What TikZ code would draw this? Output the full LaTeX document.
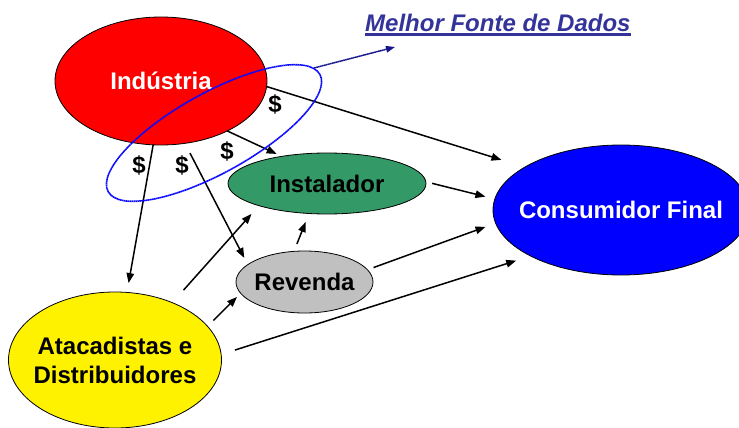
\documentclass[tikz,border=0pt]{standalone}
\usepackage{fontspec}
\setmainfont{Liberation Sans}
\usetikzlibrary{shapes.geometric,arrows.meta}
\definecolor{grn}{RGB}{51,153,102}
\definecolor{ttlc}{RGB}{51,51,153}
\definecolor{navyc}{RGB}{20,20,140}
\definecolor{selblue}{RGB}{10,10,255}
\definecolor{greyc}{RGB}{192,192,192}
\begin{document}
\begin{tikzpicture}[x=1pt,y=-1pt,
 ell/.style={ellipse, draw=black, line width=0.8pt, inner sep=0pt, outer sep=0pt},
 lbl/.style={font=\fontsize{24}{29}\selectfont\bfseries, align=center, inner sep=0pt},
 arr/.style={line width=1.5pt, -{Triangle[length=10pt,width=7.5pt]}},
 dollar/.style={font=\fontsize{24}{29}\selectfont\bfseries, inner sep=0pt}]
\useasboundingbox (0,0) rectangle (739,428);
\clip (0,0) rectangle (739,428);

\node[ell, fill=red, minimum width=212pt, minimum height=128pt,
  label={[lbl, text=white]center:Indústria}] (ind) at (161,81) {};
\node[ell, fill=grn, minimum width=198pt, minimum height=61pt,
  label={[lbl]center:Instalador}] (inst) at (327,183.5) {};
\node[ell, fill=greyc, minimum width=137pt, minimum height=62pt,
  label={[lbl]center:Revenda}] (rev) at (304.5,282) {};
\node[ell, fill=yellow, minimum width=213pt, minimum height=136pt,
  label={[lbl]center:Atacadistas e\\Distribuidores}] (ata) at (115,360) {};
\node[ell, fill=blue, minimum width=256pt, minimum height=130pt,
  label={[lbl, text=white]center:Consumidor Final}] (cons) at (621,210) {};

\node[dollar] (d1) at (275,104) {\$};
\node[dollar] (d2) at (227,151) {\$};
\node[dollar] (d3) at (139,165) {\$};
\node[dollar] (d4) at (182,165) {\$};

\draw[arr, shorten >=24.4pt] (ind.357.3) -- (cons.156.2);
\draw[arr, shorten >=5.7pt] (ind.323.3) -- (inst.149.5);
\draw[arr, shorten >=9.5pt] (ind.263) -- (ata.80.5);
\draw[arr, shorten <=11pt, shorten >=7.6pt] (ind.291.9) -- (rev.163.2);
\draw[arr, shorten <=16.8pt, shorten >=11.1pt] (ata.45.4) -- (inst.198.3);
\draw[arr, shorten <=8.3pt, shorten >=5.2pt] (ata.20.4) -- (rev.190.1);
\draw[arr, shorten <=8pt, shorten >=9.15pt] (rev.109) -- (inst.239.7);
\draw[arr, shorten <=6.5pt, shorten >=9.7pt] (inst.1.3) -- (cons.175.8);
\draw[arr, shorten <=6.5pt, shorten >=10.8pt] (rev.11.7) -- (cons.186.6);
\draw[arr, shorten <=14.5pt, shorten >=15.15pt] (ata.3.0) -- (cons.207.4);

\node[ellipse, draw=selblue, line width=1.6pt, dash pattern=on 1.6pt off 0.4pt,
  rotate=29, minimum width=242pt, minimum height=80pt, inner sep=0pt] (sel) at (214,133) {};
\coordinate (bt) at (395,47);
\draw[navyc, line width=1.5pt, dash pattern=on 1.6pt off 0.4pt,
  -{Triangle[length=9pt,width=6.5pt]}] (sel.4) -- (bt);

\node[inner sep=0pt, anchor=base west, text=ttlc,
  font=\fontsize{24}{29}\selectfont\bfseries\itshape] (ttl) at (365,31.5) {Melhor Fonte de Dados};
\draw[ttlc, line width=2.5pt] ([yshift=-3pt]ttl.base west) -- ([yshift=-3pt]ttl.base east);
\end{tikzpicture}
\end{document}
